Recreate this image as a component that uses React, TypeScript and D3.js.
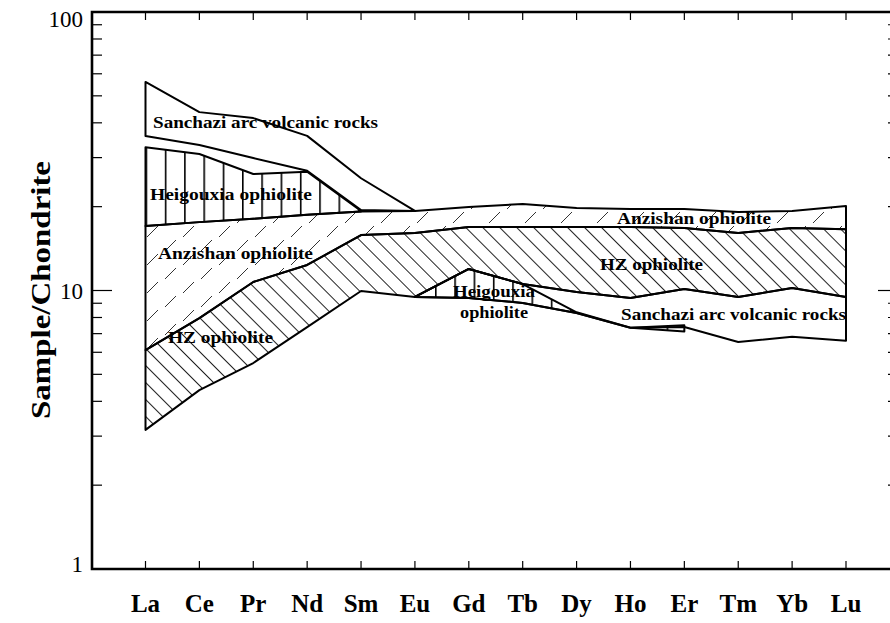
import { useEffect, useRef } from "react";
import * as d3 from "d3";

// REE elements (x categories)
const elements = ["La", "Ce", "Pr", "Nd", "Sm", "Eu", "Gd", "Tb", "Dy", "Ho", "Er", "Tm", "Yb", "Lu"];

// band limits, sample / chondrite
const sanchaziUpperTop = [56.1, 43.7, 41.6, 35.9, 25.3, 19.3]; // La..Eu
const sanchaziUpperBottom = [35.9, 33.3, 29.9, 26.9, 19.45, 19.3];

const heigouxiaUpperTop = [32.7, 30.9, 26.2, 26.7, 19.3]; // La..Sm
const heigouxiaUpperBottom = [17.05, 17.6, 18.1, 18.7, 19.2];

const anzishanTop = [17.05, 17.6, 18.1, 18.7, 19.2, 19.3, 19.94, 20.45, 19.78, 19.6, 19.6, 19.13, 19.3, 20.1];
const hzTop = [6.11, 7.96, 10.73, 12.35, 15.82, 16.09, 16.9, 16.9, 16.9, 16.9, 16.75, 16.1, 16.75, 16.6];
const hzBottom = [3.16, 4.39, 5.49, 7.39, 9.96, 9.48, 11.95, 10.55, 9.88, 9.4, 10.12, 9.48, 10.2, 9.48];

const heigouxiaLowerTop = [9.48, 11.95, 10.55, 8.35, 7.35, 7.5]; // Eu..Er
const heigouxiaLowerBottom = [9.48, 9.4, 9.02, 8.3, 7.35, 7.12];

const sanchaziLowerTop = hzBottom.slice(5); // Eu..Lu
const sanchaziLowerBottom = [9.48, 9.4, 9.02, 8.3, 7.35, 7.4, 6.53, 6.82, 6.6];

const yTicks = [1, 10, 100];
const minorTicks = [2, 3, 4, 5, 6, 7, 8, 9, 20, 30, 40, 50, 60, 70, 80, 90];

const labels = [
  { text: "Sanchazi arc volcanic rocks", x: 153, y: 128, w: 225 },
  { text: "Heigouxia  ophiolite", x: 150, y: 200, w: 162 },
  { text: "Anzishan  ophiolite", x: 158, y: 259, w: 155 },
  { text: "HZ ophiolite", x: 168, y: 343, w: 105 },
  { text: "Anzishan  ophiolite", x: 617, y: 224, w: 154 },
  { text: "HZ ophiolite", x: 600, y: 270, w: 103 },
  { text: "Heigouxia", x: 453, y: 297, w: 82 },
  { text: "ophiolite", x: 460, y: 318, w: 68 },
  { text: "Sanchazi arc volcanic rocks", x: 621, y: 320, w: 225 },
];

export default function App() {
  const ref = useRef<SVGSVGElement>(null);

  useEffect(() => {
    const svg = d3.select(ref.current);
    svg.selectAll("*").remove();

    const left = 92, right = 898, top = 12, bottom = 569;
    const x = d3.scalePoint().domain(elements).range([145.5, 846]);
    const y = d3.scaleLog().domain([1, 100]).range([bottom, top]);

    const defs = svg.append("defs");
    defs.append("pattern").attr("id", "vert").attr("patternUnits", "userSpaceOnUse")
      .attr("width", 19.3).attr("height", 10).attr("patternTransform", "translate(145.5,0)")
      .append("line").attr("x1", 0.8).attr("x2", 0.8).attr("y1", 0).attr("y2", 10)
      .attr("stroke", "#000").attr("stroke-width", 1.6);

    defs.append("pattern").attr("id", "back").attr("patternUnits", "userSpaceOnUse")
      .attr("width", 12).attr("height", 12).attr("patternTransform", "rotate(-45)")
      .append("line").attr("x1", 0.5).attr("x2", 0.5).attr("y1", 0).attr("y2", 12)
      .attr("stroke", "#222").attr("stroke-width", 1);

    const dash = defs.append("pattern").attr("id", "dash").attr("patternUnits", "userSpaceOnUse")
      .attr("width", 36).attr("height", 28);
    [[3, 13, 14, 2], [21, 27, 32, 16]].forEach(([x1, y1, x2, y2]) =>
      dash.append("line").attr("x1", x1).attr("y1", y1).attr("x2", x2).attr("y2", y2)
        .attr("stroke", "#333").attr("stroke-width", 1));

    const g = svg.append("g");

    const band = (start: number, topV: number[], botV: number[], fill: string) => {
      const rows = topV.map((t, i) => ({ e: elements[start + i], t, b: botV[i] }));
      const area = d3.area<any>().x((d) => x(d.e)!).y0((d) => y(d.b)).y1((d) => y(d.t));
      g.append("path").attr("d", area(rows)!).attr("fill", fill)
        .attr("stroke", "#000").attr("stroke-width", 2).attr("stroke-linejoin", "round");
    };

    band(0, anzishanTop, hzTop, "url(#dash)");
    band(0, hzTop, hzBottom, "url(#back)");
    band(5, sanchaziLowerTop, sanchaziLowerBottom, "none");
    band(5, heigouxiaLowerTop, heigouxiaLowerBottom, "url(#vert)");
    band(0, sanchaziUpperTop, sanchaziUpperBottom, "none");
    band(0, heigouxiaUpperTop, heigouxiaUpperBottom, "url(#vert)");

    // labels
    g.selectAll("text.lab").data(labels).join("text").attr("class", "lab")
      .attr("x", (d) => d.x).attr("y", (d) => d.y)
      .attr("textLength", (d) => d.w).attr("lengthAdjust", "spacingAndGlyphs")
      .attr("font-family", "Liberation Serif").attr("font-weight", "bold").attr("font-size", 16)
      .text((d) => d.text);

    // frame
    const ax = svg.append("g").attr("stroke", "#000");
    ax.append("path").attr("d", `M${right},${top}H${left}V${bottom}H${right}`)
      .attr("fill", "none").attr("stroke-width", 2.6);

    minorTicks.forEach((v) => {
      ax.append("line").attr("x1", left).attr("x2", left + 10).attr("y1", y(v)).attr("y2", y(v)).attr("stroke-width", 1.2);
      ax.append("line").attr("x1", right - 10).attr("x2", right).attr("y1", y(v)).attr("y2", y(v)).attr("stroke-width", 1.2);
    });
    ax.append("line").attr("x1", left).attr("x2", left + 20).attr("y1", y(10)).attr("y2", y(10)).attr("stroke-width", 1.2);
    ax.append("line").attr("x1", right - 20).attr("x2", right).attr("y1", y(10)).attr("y2", y(10)).attr("stroke-width", 1.2);

    elements.forEach((e) => {
      ax.append("line").attr("x1", x(e)!).attr("x2", x(e)!).attr("y1", top).attr("y2", top + 8).attr("stroke-width", 1.2);
      ax.append("line").attr("x1", x(e)!).attr("x2", x(e)!).attr("y1", bottom).attr("y2", bottom - 8).attr("stroke-width", 1.2);
    });

    svg.selectAll("text.yt").data(yTicks).join("text").attr("class", "yt")
      .attr("x", 83).attr("y", (d) => y(d) + (d === 100 ? 15 : d === 10 ? 8 : 3))
      .attr("text-anchor", "end").attr("font-family", "Liberation Serif").attr("font-size", 23)
      .text((d) => d);

    svg.selectAll("text.xt").data(elements).join("text").attr("class", "xt")
      .attr("x", (d) => x(d)!).attr("y", 612).attr("text-anchor", "middle")
      .attr("font-family", "Liberation Serif").attr("font-weight", "bold").attr("font-size", 25)
      .text((d) => d);

    svg.append("text").attr("transform", "translate(50,290) rotate(-90)")
      .attr("text-anchor", "middle").attr("font-family", "Liberation Serif").attr("font-weight", "bold")
      .attr("font-size", 28).attr("textLength", 258).attr("lengthAdjust", "spacingAndGlyphs")
      .text("Sample/Chondrite");
  }, []);

  return (
    <svg ref={ref} width={890} height={623}
      style={{ position: "absolute", left: 0, top: 0, background: "#fff" }} />
  );
}
